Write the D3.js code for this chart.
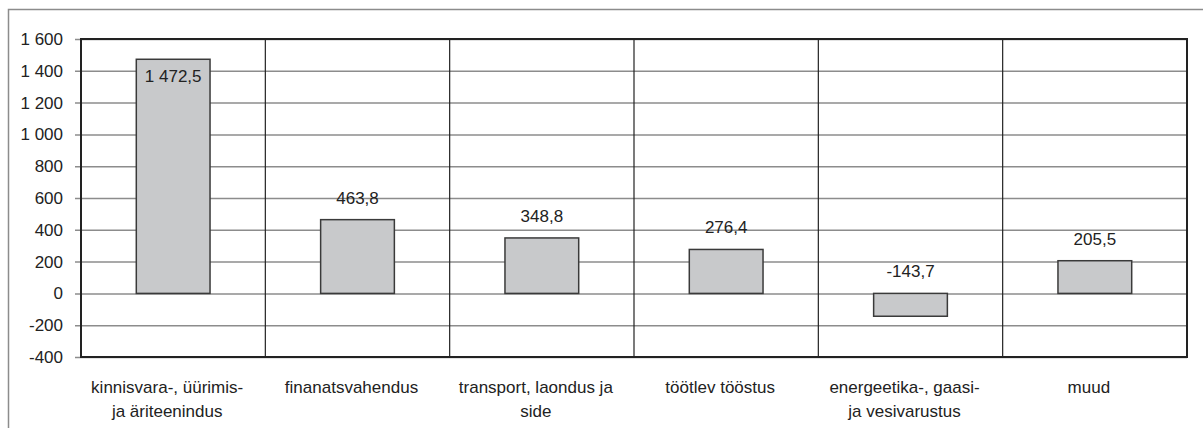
<!DOCTYPE html>
<html>
<head>
<meta charset="utf-8">
<script src="https://cdn.jsdelivr.net/npm/d3@7"></script>
<style>
  body { margin: 0; background: #fff; }
  svg { display: block; font-family: "Liberation Sans", Arial, sans-serif; }
</style>
</head>
<body>
<div id="root"></div>
<script>
// categories, each split into the lines shown under the axis
const categories = [
  ['kinnisvara-, üürimis-', 'ja äriteenindus'],
  ['finanatsvahendus'],
  ['transport, laondus ja', 'side'],
  ['töötlev tööstus'],
  ['energeetika-, gaasi-', 'ja vesivarustus'],
  ['muud']
];
const values = [1472.5, 463.8, 348.8, 276.4, -143.7, 205.5];
const yTicks = [-400, -200, 0, 200, 400, 600, 800, 1000, 1200, 1400, 1600];

const W = 1203, H = 428;
const margin = { top: 39, right: 16, bottom: 71, left: 81 };
const plotW = W - margin.right - margin.left;

const et = d3.formatLocale({ decimal: ',', thousands: ' ', grouping: [3], currency: ['', ''], minus: '-' });
const fmtTick = et.format(',d');
const fmtVal = et.format(',.1f');

const svg = d3.select('#root').append('svg')
  .attr('width', W)
  .attr('height', H);

// outer frame (runs off the right and bottom edges)
svg.append('rect')
  .attr('x', 8.5).attr('y', 9.5)
  .attr('width', W + 20).attr('height', H + 20)
  .attr('fill', 'none')
  .attr('stroke', '#8c8c8c')
  .attr('stroke-width', 1.5);

const x = d3.scaleBand()
  .domain(d3.range(categories.length))
  .range([margin.left, W - margin.right]);

const y = d3.scaleLinear()
  .domain([-400, 1600])
  .range([H - margin.bottom, margin.top]);

// horizontal gridlines + ticks
const yAxis = d3.axisLeft(y)
  .tickValues(yTicks)
  .tickSize(-(plotW + 6))
  .tickFormat(fmtTick)
  .tickPadding(12);

const gy = svg.append('g')
  .attr('transform', `translate(${margin.left - 6},0)`)
  .call(yAxis);
gy.select('.domain').remove();
gy.selectAll('.tick line')
  .attr('stroke', '#8c8c8c')
  .attr('stroke-width', 1.5);
gy.selectAll('.tick text')
  .attr('fill', '#222')
  .style('font-size', '17px')
  .style('font-family', '"Liberation Sans", Arial, sans-serif');

// vertical separators between categories
svg.append('g')
  .selectAll('line')
  .data(d3.range(1, categories.length))
  .join('line')
  .attr('x1', d => x(d)).attr('x2', d => x(d))
  .attr('y1', y(1600)).attr('y2', y(-400))
  .attr('stroke', '#222')
  .attr('stroke-width', 1.2);

// plot border
svg.append('rect')
  .attr('x', x.range()[0]).attr('y', y(1600))
  .attr('width', x.range()[1] - x.range()[0])
  .attr('height', y(-400) - y(1600))
  .attr('fill', 'none')
  .attr('stroke', '#222')
  .attr('stroke-width', 2);

// bars
const bw = x.bandwidth() * 0.4;
svg.append('g')
  .selectAll('rect')
  .data(values)
  .join('rect')
  .attr('x', (d, i) => x(i) + (x.bandwidth() - bw) / 2)
  .attr('y', d => y(Math.max(d, 0)))
  .attr('width', bw)
  .attr('height', d => Math.abs(y(d) - y(0)))
  .attr('fill', '#c8c9cb')
  .attr('stroke', '#3a3a3a')
  .attr('stroke-width', 1.5);

// value labels
svg.append('g')
  .selectAll('text')
  .data(values)
  .join('text')
  .attr('x', (d, i) => x(i) + x.bandwidth() / 2)
  .attr('y', d => {
    const top = y(Math.max(d, 0));
    return top - 16 < y(1600) + 14 ? top + 23 : top - 16;
  })
  .attr('text-anchor', 'middle')
  .attr('fill', '#222')
  .style('font-size', '17px')
  .text(d => fmtVal(d));

// category labels
const cat = svg.append('g')
  .selectAll('text')
  .data(categories)
  .join('text')
  .attr('text-anchor', 'middle')
  .attr('fill', '#222')
  .style('font-size', '17px')
  .attr('transform', (d, i) => `translate(${x(i) + x.bandwidth() / 2 - 6},${y(-400) + 36})`);
cat.selectAll('tspan')
  .data(d => d)
  .join('tspan')
  .attr('x', 0)
  .attr('dy', (d, i) => i === 0 ? 0 : 24)
  .text(d => d);
</script>
</body>
</html>
